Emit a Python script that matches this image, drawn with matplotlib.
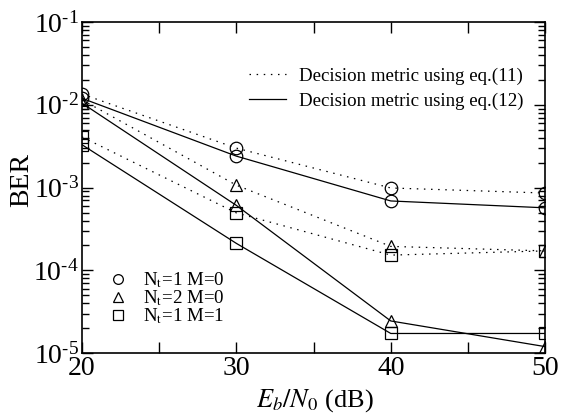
import matplotlib
matplotlib.use("Agg")
import matplotlib.pyplot as plt
from matplotlib.lines import Line2D
from matplotlib.ticker import LogLocator, NullFormatter, FixedLocator, FuncFormatter
import math

plt.rcParams['font.family'] = ['Liberation Serif', 'DejaVu Serif']
plt.rcParams['mathtext.fontset'] = 'stix'

snr = [20, 30, 40, 50]

# Nt=1 M=0 (circles)
ber_c_eq11 = [1.35e-2, 3.0e-3, 9.9e-4, 8.6e-4]
ber_c_eq12 = [1.2e-2, 2.4e-3, 6.9e-4, 5.7e-4]
# Nt=2 M=0 (triangles)
ber_t_eq11 = [1.15e-2, 1.07e-3, 1.95e-4, 1.72e-4]
ber_t_eq12 = [1.05e-2, 6.1e-4, 2.45e-5, 1.2e-5]
# Nt=1 M=1 (squares)
ber_s_eq11 = [4.1e-3, 4.95e-4, 1.53e-4, 1.72e-4]
ber_s_eq12 = [3.3e-3, 2.12e-4, 1.73e-5, 1.73e-5]

series = [
    (ber_c_eq11, 'o', ':'), (ber_c_eq12, 'o', '-'),
    (ber_t_eq11, '^', ':'), (ber_t_eq12, '^', '-'),
    (ber_s_eq11, 's', ':'), (ber_s_eq12, 's', '-'),
]
DOT = (0, (1.2, 4.5))

fig = plt.figure(figsize=(5.65, 4.16), dpi=100)
ax = fig.add_axes([0.145, 0.151, 0.820, 0.796])

for vals, mk, ls in series:
    ax.plot(snr, vals, linestyle=DOT if ls == ':' else '-', color='black', lw=0.9,
            marker=mk, markersize=9, markerfacecolor='none',
            markeredgecolor='black', markeredgewidth=0.9)

ax.set_yscale('log')
ax.set_xlim(20, 50)
ax.set_ylim(1e-5, 1e-1)
ax.xaxis.set_major_locator(FixedLocator([20, 30, 40, 50]))
ax.xaxis.set_minor_locator(FixedLocator([25, 35, 45]))
ax.yaxis.set_major_locator(LogLocator(base=10, numticks=10))
ax.yaxis.set_minor_locator(LogLocator(base=10, subs=range(2, 10), numticks=20))
ax.yaxis.set_minor_formatter(NullFormatter())


def log_fmt(v, pos):
    e = int(round(math.log10(v)))
    return r'$\mathregular{10^{\text{-}%d}}$' % abs(e) if e < 0 else r'$\mathregular{10^{%d}}$' % e


ax.yaxis.set_major_formatter(FuncFormatter(log_fmt))
ax.tick_params(which='both', direction='in', top=True, right=True, labelsize=20,
               width=1.0, color='black')
ax.tick_params(which='major', length=8, pad=2)
ax.tick_params(which='minor', length=5)
ax.tick_params(axis='x', which='minor', length=8)
for s in ax.spines.values():
    s.set_linewidth(1.2)

ax.set_xlabel(r'$E_b/N_0$ (dB)', fontsize=19)
ax.xaxis.label.set_va('center')
ax.xaxis.set_label_coords(0.502, -0.142)
ax.set_ylabel('BER', fontsize=20)
ax.yaxis.label.set_va('center')
ax.yaxis.set_label_coords(-0.13, 0.523)

h1 = [Line2D([], [], color='black', lw=0.9, linestyle=DOT),
      Line2D([], [], color='black', lw=0.9, linestyle='-')]
leg1 = ax.legend(h1, ['Decision metric using eq.(11)', 'Decision metric using eq.(12)'],
                 loc='upper right', bbox_to_anchor=(0.9525, 0.862), frameon=False,
                 fontsize=13.6, handlelength=2.0, handletextpad=0.65, labelspacing=0.38,
                 borderaxespad=0, borderpad=0)
ax.add_artist(leg1)

h2 = [Line2D([], [], color='black', lw=0, marker=m, markersize=7,
             markerfacecolor='none', markeredgewidth=0.9) for m in ['o', '^', 's']]
ax.legend(h2, [r'N$_\mathrm{t}$=1 M=0', r'N$_\mathrm{t}$=2 M=0', r'N$_\mathrm{t}$=1 M=1'],
          loc='lower left', bbox_to_anchor=(0.057, 0.082), frameon=False,
          fontsize=13.6, handlelength=1.0, handletextpad=0.85, labelspacing=-0.1,
          borderaxespad=0, borderpad=0)

fig.savefig('out.png', dpi=100)
